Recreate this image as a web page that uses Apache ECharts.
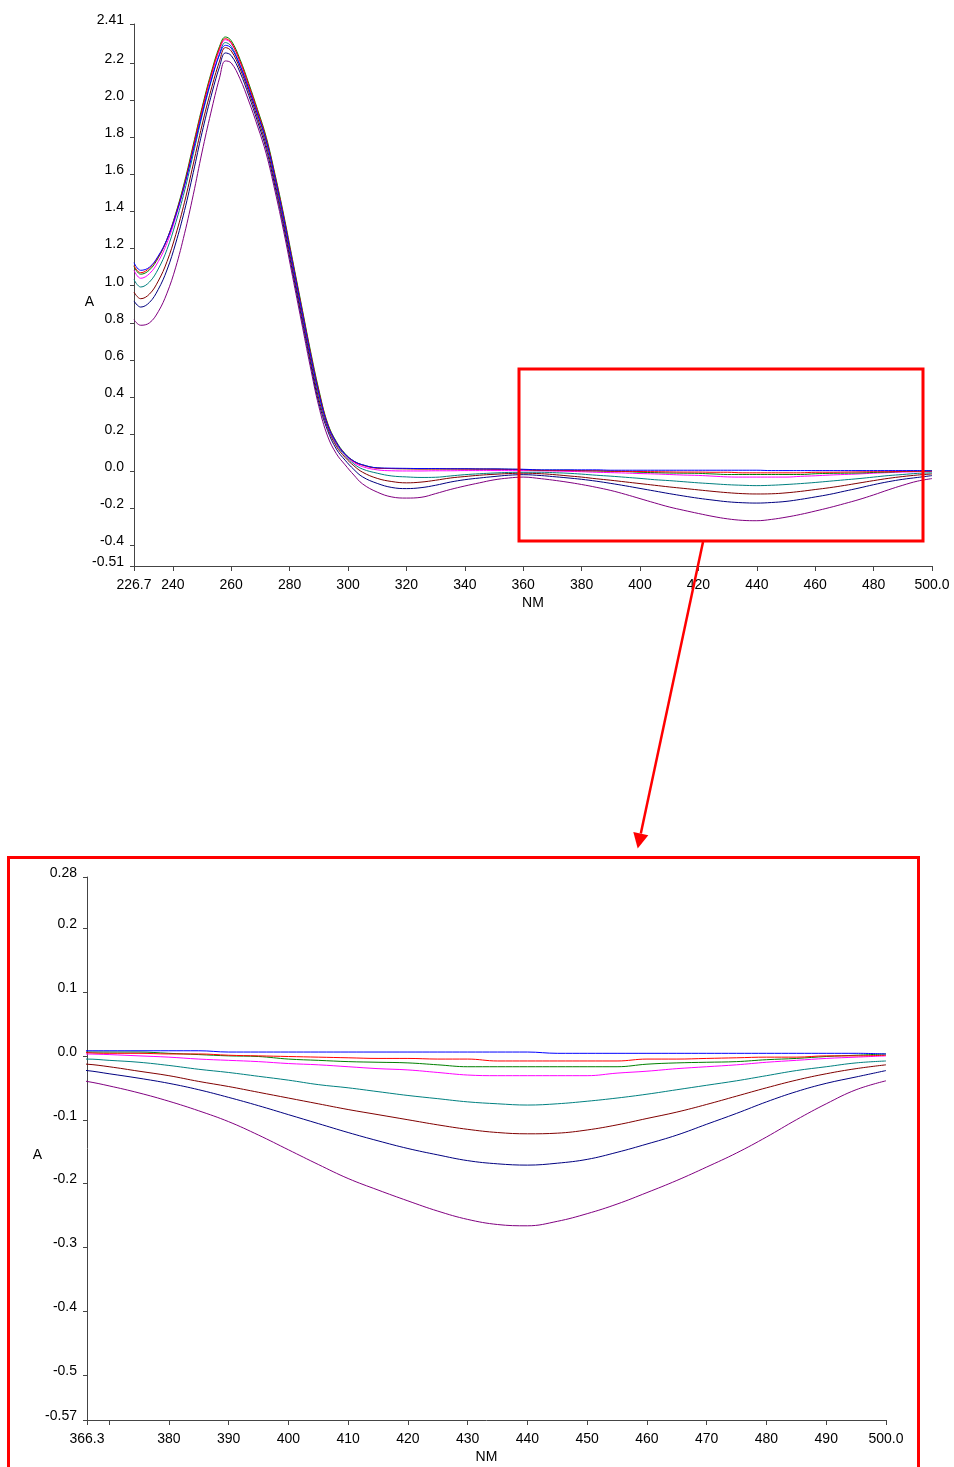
<!DOCTYPE html>
<html>
<head>
<meta charset="UTF-8">
<title>Spectra</title>
<script src="https://cdn.jsdelivr.net/npm/echarts@6/dist/echarts.min.js"></script>
<style>
  html, body { margin: 0; padding: 0; background: #fff; }
  #chart { width: 954px; height: 1467px; }
</style>
</head>
<body>
<div id="chart"></div>
<script type="text/javascript">
// wavelengths (nm), shared by every curve
var wavelengths = [226.7, 229, 232, 235, 238, 241, 244, 247, 250, 253, 256, 258, 260, 263, 266, 269, 272, 275, 278, 281, 284, 287, 290, 293, 296, 299, 302, 305,
  310, 315, 320, 325, 330, 335, 340, 345, 350, 355, 360,
  366.3,
  370, 375, 380, 385, 390, 395, 400, 405, 410, 415, 420, 425, 430, 435, 440, 445, 450, 455, 460, 465, 470, 475, 480, 485, 490, 495, 500];

// absorbance of each curve
var blueA = [1.124, 1.083, 1.10, 1.16, 1.25, 1.38, 1.54, 1.73, 1.925, 2.10, 2.245, 2.295, 2.28, 2.185, 2.06, 1.925, 1.78, 1.58, 1.36, 1.12, 0.88, 0.64, 0.42, 0.25, 0.155, 0.092, 0.055, 0.035,
  0.019, 0.017, 0.016, 0.015, 0.015, 0.014, 0.014, 0.013, 0.013, 0.012, 0.011,
  0.008,
  0.008, 0.008, 0.008, 0.008, 0.006, 0.006, 0.006, 0.006, 0.006, 0.006, 0.006, 0.006, 0.006, 0.006, 0.006, 0.004, 0.004, 0.004, 0.004, 0.004, 0.004, 0.004, 0.004, 0.004, 0.004, 0.004, 0.003];
var redA = [1.108, 1.07, 1.095, 1.155, 1.25, 1.385, 1.55, 1.75, 1.95, 2.13, 2.28, 2.331, 2.31, 2.21, 2.08, 1.94, 1.79, 1.59, 1.37, 1.13, 0.89, 0.65, 0.43, 0.255, 0.155, 0.092, 0.053, 0.033,
  0.017, 0.015, 0.014, 0.013, 0.013, 0.013, 0.012, 0.012, 0.011, 0.010, 0.009,
  0.005,
  0.004, 0.004, 0.003, 0.003, 0.001, 0.0, -0.001, -0.002, -0.003, -0.004, -0.004, -0.005, -0.005, -0.008, -0.008, -0.008, -0.008, -0.008, -0.005, -0.005, -0.004, -0.003, -0.002, -0.002, 0.0, 0.0, 0.001];
var greenA = [1.104, 1.062, 1.085, 1.15, 1.25, 1.39, 1.56, 1.76, 1.96, 2.14, 2.29, 2.34, 2.32, 2.22, 2.09, 1.95, 1.80, 1.60, 1.38, 1.14, 0.90, 0.66, 0.44, 0.26, 0.16, 0.095, 0.055, 0.035,
  0.018, 0.015, 0.014, 0.013, 0.013, 0.013, 0.013, 0.012, 0.012, 0.011, 0.010,
  0.006,
  0.006, 0.006, 0.004, 0.002, 0.0, -0.001, -0.005, -0.007, -0.009, -0.010, -0.011, -0.014, -0.017, -0.017, -0.017, -0.017, -0.017, -0.017, -0.013, -0.011, -0.010, -0.009, -0.006, -0.004, -0.001, 0.001, 0.003];
var magentaA = [1.083, 1.04, 1.065, 1.13, 1.23, 1.37, 1.54, 1.74, 1.94, 2.12, 2.27, 2.325, 2.305, 2.205, 2.075, 1.935, 1.785, 1.585, 1.365, 1.125, 0.885, 0.645, 0.425, 0.25, 0.15, 0.09, 0.048, 0.025,
  0.008, 0.003, 0.002, 0.002, 0.003, 0.003, 0.004, 0.004, 0.004, 0.004, 0.004,
  0.003,
  0.002, 0.0, -0.002, -0.005, -0.007, -0.009, -0.012, -0.014, -0.017, -0.020, -0.022, -0.026, -0.030, -0.031, -0.031, -0.031, -0.031, -0.027, -0.024, -0.020, -0.017, -0.014, -0.010, -0.007, -0.004, -0.002, 0.0];
var tealA = [1.033, 0.993, 1.02, 1.09, 1.195, 1.34, 1.51, 1.71, 1.915, 2.095, 2.25, 2.31, 2.29, 2.19, 2.065, 1.925, 1.775, 1.575, 1.355, 1.115, 0.875, 0.635, 0.41, 0.245, 0.145, 0.085, 0.04, 0.012,
  -0.01, -0.025, -0.03, -0.033, -0.032, -0.025, -0.018, -0.013, -0.009, -0.006, -0.005,
  -0.005,
  -0.007, -0.010, -0.015, -0.021, -0.026, -0.032, -0.038, -0.045, -0.050, -0.056, -0.062, -0.067, -0.072, -0.075, -0.077, -0.075, -0.071, -0.066, -0.060, -0.053, -0.046, -0.039, -0.031, -0.023, -0.017, -0.011, -0.008];
var maroonA = [0.966, 0.93, 0.955, 1.025, 1.13, 1.275, 1.45, 1.655, 1.865, 2.05, 2.21, 2.283, 2.265, 2.17, 2.045, 1.905, 1.755, 1.555, 1.335, 1.095, 0.855, 0.615, 0.39, 0.235, 0.135, 0.075, 0.03, -0.005,
  -0.038, -0.055, -0.062, -0.058, -0.048, -0.036, -0.028, -0.021, -0.016, -0.012, -0.010,
  -0.013,
  -0.017, -0.024, -0.031, -0.040, -0.048, -0.057, -0.066, -0.075, -0.084, -0.092, -0.100, -0.108, -0.115, -0.120, -0.122, -0.121, -0.116, -0.108, -0.098, -0.088, -0.076, -0.063, -0.050, -0.038, -0.028, -0.020, -0.014];
var navyA = [0.918, 0.885, 0.91, 0.98, 1.085, 1.23, 1.405, 1.61, 1.825, 2.015, 2.18, 2.254, 2.24, 2.15, 2.025, 1.885, 1.735, 1.535, 1.315, 1.075, 0.835, 0.595, 0.37, 0.22, 0.12, 0.06, 0.01, -0.03,
  -0.065, -0.087, -0.093, -0.088, -0.075, -0.058, -0.045, -0.036, -0.028, -0.021, -0.018,
  -0.023,
  -0.028, -0.035, -0.043, -0.053, -0.065, -0.078, -0.092, -0.106, -0.120, -0.133, -0.145, -0.155, -0.164, -0.169, -0.171, -0.168, -0.162, -0.151, -0.138, -0.124, -0.107, -0.090, -0.072, -0.056, -0.043, -0.033, -0.023];
var purpleA = [0.817, 0.787, 0.80, 0.86, 0.96, 1.10, 1.28, 1.49, 1.72, 1.93, 2.12, 2.211, 2.20, 2.115, 1.995, 1.86, 1.71, 1.51, 1.29, 1.05, 0.81, 0.57, 0.35, 0.19, 0.095, 0.035, -0.02, -0.068,
  -0.112, -0.138, -0.144, -0.14, -0.12, -0.098, -0.079, -0.062, -0.046, -0.036, -0.031,
  -0.040,
  -0.047, -0.058, -0.071, -0.086, -0.103, -0.124, -0.147, -0.170, -0.192, -0.210, -0.227, -0.243, -0.256, -0.264, -0.266, -0.259, -0.247, -0.232, -0.214, -0.195, -0.174, -0.152, -0.127, -0.100, -0.075, -0.053, -0.039];

// drawn bottom-most first
var curves = [
  {color: '#800080', values: purpleA},
  {color: '#000080', values: navyA},
  {color: '#800000', values: maroonA},
  {color: '#008080', values: tealA},
  {color: '#ff00ff', values: magentaA},
  {color: '#008000', values: greenA},
  {color: '#ff0000', values: redA},
  {color: '#0000ff', values: blueA}
];

// tick values and their labels
var topXTicks = [226.7, 240, 260, 280, 300, 320, 340, 360, 380, 400, 420, 440, 460, 480, 500];
var topXLabels = ['226.7', '240', '260', '280', '300', '320', '340', '360', '380', '400', '420', '440', '460', '480', '500.0'];
var topYTicks = [-0.51, -0.4, -0.2, 0, 0.2, 0.4, 0.6, 0.8, 1.0, 1.2, 1.4, 1.6, 1.8, 2.0, 2.2, 2.41];
var topYLabels = ['-0.51', '-0.4', '-0.2', '0.0', '0.2', '0.4', '0.6', '0.8', '1.0', '1.2', '1.4', '1.6', '1.8', '2.0', '2.2', '2.41'];
var zoomXTicks = [366.3, 370, 380, 390, 400, 410, 420, 430, 440, 450, 460, 470, 480, 490, 500];
var zoomXLabels = ['366.3', '', '380', '390', '400', '410', '420', '430', '440', '450', '460', '470', '480', '490', '500.0'];
var zoomYTicks = [-0.57, -0.5, -0.4, -0.3, -0.2, -0.1, 0, 0.1, 0.2, 0.28];
var zoomYLabels = ['-0.57', '-0.5', '-0.4', '-0.3', '-0.2', '-0.1', '0.0', '0.1', '0.2', '0.28'];

var FONT = '"Liberation Sans", Arial, sans-serif';

function labelFor(ticks, labels) {
  return function (v) {
    for (var i = 0; i < ticks.length; i++) {
      if (Math.abs(ticks[i] - v) < 1e-6) return labels[i];
    }
    return '';
  };
}

function xAxisFor(grid, min, max, ticks, labels) {
  return {
    type: 'value', gridIndex: grid, min: min, max: max,
    name: 'NM', nameLocation: 'middle', nameGap: 30,
    nameTextStyle: {color: '#000', fontSize: 14, fontFamily: FONT},
    axisLine: {onZero: false, lineStyle: {color: '#444', width: 1}},
    axisTick: {customValues: ticks, length: 5, lineStyle: {color: '#444'}},
    axisLabel: {customValues: ticks, formatter: labelFor(ticks, labels), margin: 12,
      color: '#000', fontSize: 14, fontFamily: FONT, showMinLabel: true, showMaxLabel: true},
    splitLine: {show: false}
  };
}

function yAxisFor(grid, min, max, ticks, labels, gap) {
  return {
    type: 'value', gridIndex: grid, min: min, max: max,
    name: 'A', nameLocation: 'middle', nameRotate: 0, nameGap: gap, nameMoveOverlap: false,
    nameTextStyle: {color: '#000', fontSize: 14, fontFamily: FONT, verticalAlign: 'top'},
    axisLine: {show: true, onZero: false, lineStyle: {color: '#444', width: 1}},
    axisTick: {show: true, customValues: ticks, length: 4, lineStyle: {color: '#444'}},
    // labels sit a little above their tick, as in the original
    axisLabel: {customValues: ticks, formatter: labelFor(ticks, labels), margin: 10,
      verticalAlign: 'bottom', lineHeight: 8, color: '#000', fontSize: 14, fontFamily: FONT,
      showMinLabel: true, showMaxLabel: true},
    splitLine: {show: false}
  };
}

var series = [];
[0, 1].forEach(function (g) {
  curves.forEach(function (c) {
    series.push({
      type: 'line', xAxisIndex: g, yAxisIndex: g,
      data: wavelengths.map(function (w, i) { return [w, c.values[i]]; }),
      showSymbol: false, smooth: 0.4, clip: true,
      lineStyle: {color: c.color, width: 1},
      itemStyle: {color: c.color}
    });
  });
});

var chart = echarts.init(document.getElementById('chart'));
chart.setOption({
  animation: false,
  backgroundColor: '#fff',
  grid: [
    {left: 134, top: 24, width: 798, height: 542},
    {left: 87, top: 877, width: 799, height: 543}
  ],
  xAxis: [
    xAxisFor(0, 226.7, 500, topXTicks, topXLabels),
    xAxisFor(1, 366.3, 500, zoomXTicks, zoomXLabels)
  ],
  yAxis: [
    yAxisFor(0, -0.51, 2.41, topYTicks, topYLabels, 40),
    yAxisFor(1, -0.57, 0.28, zoomYTicks, zoomYLabels, 45)
  ],
  series: series,
  // red call-out: box on the upper plot, arrow, box round the enlarged plot
  graphic: [
    {type: 'rect', z: 100, shape: {x: 519, y: 369, width: 404, height: 172},
      style: {fill: 'none', stroke: '#ff0000', lineWidth: 3}},
    {type: 'line', z: 100, shape: {x1: 703, y1: 542, x2: 640.8, y2: 833.6},
      style: {stroke: '#ff0000', lineWidth: 2.5}},
    {type: 'polygon', z: 100, shape: {points: [[637.7, 848.5], [633.3, 832], [648.3, 835.2]]},
      style: {fill: '#ff0000'}},
    {type: 'rect', z: 100, shape: {x: 8.5, y: 857.5, width: 910, height: 640},
      style: {fill: 'none', stroke: '#ff0000', lineWidth: 3}}
  ]
});
</script>
</body>
</html>
